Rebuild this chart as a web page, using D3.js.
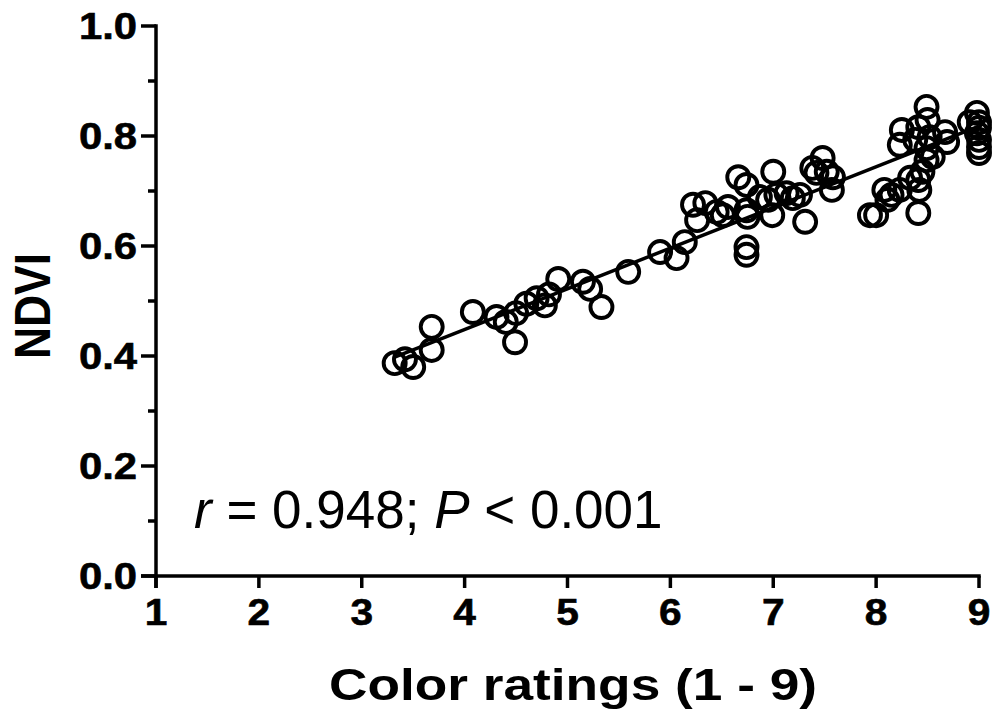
<!DOCTYPE html>
<html><head><meta charset="utf-8">
<script src="https://cdn.jsdelivr.net/npm/d3@7"></script>
<style>body{margin:0;background:#fff}svg{display:block}</style>
</head><body>
<script>
const ratings = [3.32,3.42,3.50,3.68,3.68,4.08,4.31,4.40,4.49,4.50,4.60,4.70,4.78,4.82,4.91,5.15,5.22,5.33,5.59,5.90,6.06,6.14,6.22,6.26,6.34,6.45,6.51,6.56,6.66,6.74,6.74,6.75,6.74,6.74,6.87,7.00,6.95,6.99,7.03,7.13,7.19,7.26,7.31,7.38,7.42,7.48,7.52,7.57,7.58,7.94,8.00,8.08,8.11,8.15,8.23,8.33,8.41,8.45,8.42,8.41,8.25,8.23,8.49,8.50,8.41,8.38,8.52,8.55,8.49,8.67,8.69,8.49,8.98,9.00,8.98,9.00,9.00,8.91,9.00,9.00];
const ndvi = [0.387,0.394,0.380,0.453,0.411,0.480,0.471,0.462,0.425,0.478,0.495,0.505,0.492,0.512,0.540,0.535,0.522,0.489,0.553,0.589,0.578,0.607,0.675,0.647,0.678,0.662,0.656,0.671,0.725,0.711,0.665,0.653,0.598,0.584,0.689,0.735,0.684,0.656,0.693,0.696,0.687,0.693,0.644,0.742,0.733,0.760,0.735,0.702,0.725,0.656,0.656,0.702,0.684,0.693,0.702,0.724,0.720,0.735,0.702,0.660,0.811,0.784,0.853,0.829,0.816,0.793,0.798,0.762,0.778,0.807,0.789,0.756,0.842,0.825,0.805,0.793,0.769,0.825,0.780,0.815];
const fitX = [3.32, 9.0];
const fitY = [0.398, 0.818];
const xTicks = [1,2,3,4,5,6,7,8,9];
const yTicks = [0.0,0.2,0.4,0.6,0.8,1.0];
const yMinorTicks = [0.1,0.3,0.5,0.7,0.9];

const W = 992, H = 714;
const svg = d3.select("body").append("svg").attr("width", W).attr("height", H);
const x = d3.scaleLinear().domain([1,9]).range([156,979]);
const y = d3.scaleLinear().domain([0,1]).range([576,26]);
const FONT = "'Liberation Sans', Arial, Helvetica, sans-serif";
const SW = 3.5;
function widen(sel, k){ sel.each(function(){ const w=this.getComputedTextLength(); d3.select(this).attr("textLength", w*k).attr("lengthAdjust","spacingAndGlyphs"); }); }

// y axis
const yAxis = svg.append("g").attr("transform", `translate(${x(1)},0)`);
yAxis.append("line").attr("x1",0).attr("x2",0).attr("y1",y(1)-SW/2).attr("y2",y(0)+12).attr("stroke","#000").attr("stroke-width",SW);
yAxis.selectAll("line.maj").data(yTicks).join("line").attr("class","maj")
  .attr("x1",-15).attr("x2",0).attr("y1",d=>y(d)).attr("y2",d=>y(d)).attr("stroke","#000").attr("stroke-width",SW);
yAxis.selectAll("line.min").data(yMinorTicks).join("line").attr("class","min")
  .attr("x1",-8).attr("x2",0).attr("y1",d=>y(d)).attr("y2",d=>y(d)).attr("stroke","#000").attr("stroke-width",SW);
yAxis.selectAll("text").data(yTicks).join("text")
  .attr("x",-19).attr("y",d=>y(d)+13).attr("text-anchor","end")
  .attr("font-family",FONT).attr("font-weight","bold").attr("font-size",37)
  .attr("stroke","#000").attr("stroke-width",0.6)
  .text(d=>d3.format(".1f")(d))
  .call(widen, 1.13);

// x axis
const xAxis = svg.append("g").attr("transform", `translate(0,${y(0)})`);
xAxis.append("line").attr("x1",x(1)-15).attr("x2",x(9)+SW/2).attr("y1",0).attr("y2",0).attr("stroke","#000").attr("stroke-width",SW);
xAxis.selectAll("line.tk").data(xTicks).join("line").attr("class","tk")
  .attr("x1",d=>x(d)).attr("x2",d=>x(d)).attr("y1",0).attr("y2",12).attr("stroke","#000").attr("stroke-width",SW);
xAxis.selectAll("text").data(xTicks).join("text")
  .attr("x",d=>x(d)).attr("y",49).attr("text-anchor","middle")
  .attr("font-family",FONT).attr("font-weight","bold").attr("font-size",37)
  .attr("stroke","#000").attr("stroke-width",0.6)
  .text(d=>d)
  .call(widen, 1.1);

// titles
svg.append("text").attr("x",573).attr("y",700).attr("text-anchor","middle")
  .attr("font-family",FONT).attr("font-weight","bold").attr("font-size",44)
  .attr("textLength",488).attr("lengthAdjust","spacingAndGlyphs")
  .text("Color ratings (1 - 9)");
svg.append("text").attr("transform","translate(50,306) rotate(-90)").attr("text-anchor","middle")
  .attr("font-family",FONT).attr("font-weight","bold").attr("font-size",50)
  .attr("textLength",106).attr("lengthAdjust","spacingAndGlyphs")
  .text("NDVI");

// annotation
const ann = svg.append("text").attr("x",194).attr("y",528)
  .attr("font-family",FONT).attr("font-size",53);
ann.append("tspan").attr("font-style","italic").text("r");
ann.append("tspan").text(" = 0.948; ");
ann.append("tspan").attr("font-style","italic").text("P");
ann.append("tspan").text(" < 0.001");

// fit line
svg.append("line").attr("x1",x(fitX[0])).attr("y1",y(fitY[0])).attr("x2",x(fitX[1])).attr("y2",y(fitY[1]))
  .attr("stroke","#000").attr("stroke-width",3.5);

// points
const pts = ratings.map((r,i)=>({r, v: ndvi[i]}));
svg.append("g").selectAll("circle").data(pts).join("circle")
  .attr("cx",d=>x(d.r)).attr("cy",d=>y(d.v)).attr("r",11)
  .attr("fill","none").attr("stroke","#000").attr("stroke-width",3.9);
</script>
</body></html>
